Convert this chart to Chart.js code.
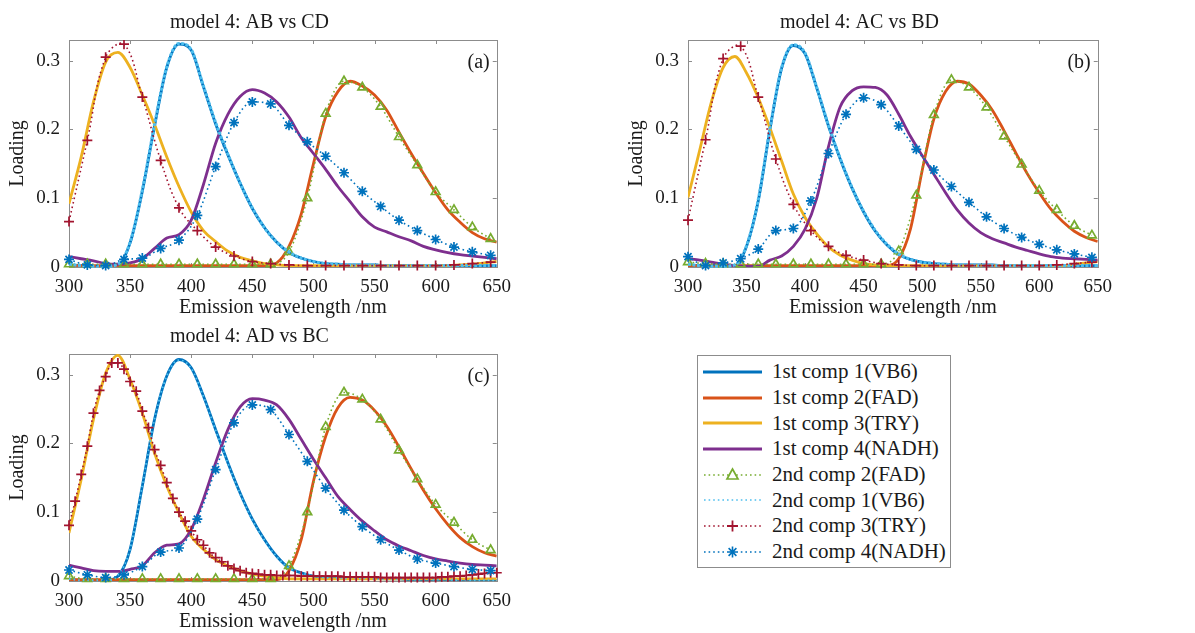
<!DOCTYPE html>
<html>
<head>
<meta charset="utf-8">
<script src="https://cdn.jsdelivr.net/npm/chart.js@4.4.1/dist/chart.umd.min.js"></script>
<style>
  body { margin: 0; background: #fff; width: 1195px; height: 633px; overflow: hidden; position: relative; font-family: "Liberation Serif", serif; }
  canvas { position: absolute; }
  #legend { position: absolute; left: 697px; top: 355px; width: 254px; height: 213px; border: 1px solid #8c8c8c; background: #fff; box-sizing: border-box; padding-top: 3px; }
  .row { height: 25.7px; display: flex; align-items: center; color: #1a1a1a; font-size: 21px; white-space: nowrap; }
  .row svg { margin-left: 5px; margin-right: 10px; }
</style>
</head>
<body>
<canvas id="chartA" width="520" height="320" style="left:0;top:0"></canvas>
<canvas id="chartB" width="502" height="320" style="left:619px;top:0"></canvas>
<canvas id="chartC" width="520" height="320" style="left:0;top:314px"></canvas>
<div id="legend"></div>
<script>
'use strict';

// wavelength grids (nm)
var wl10 = [300,310,320,330,340,350,360,370,380,390,400,410,420,430,440,450,460,470,480,490,500,510,520,530,540,550,560,570,580,590,600,610,620,630,640,650];
var wl15 = [300,315,330,345,360,375,390,405,420,435,450,465,480,495,510,525,540,555,570,585,600,615,630,645];
var wl5 = [300,305,310,315,320,325,330,335,340,345,350,355,360,365,370,375,380,385,390,395,400,405,410,415,420,425,430,435,440,445,450,455,460,465,470,475,480,485,490,495,500,505,510,515,520,525,530,535,540,545,550,555,560,565,570,575,580,585,590,595,600,605,610,615,620,625,630,635,640,645,650];

var xTicks = [300,350,400,450,500,550,600,650];
var yTicks = [0,0.1,0.2,0.3];
var yMax = 0.33;

var titles = ['model 4: AB vs CD', 'model 4: AC vs BD', 'model 4: AD vs BC'];
var tags = ['(a)', '(b)', '(c)'];

var legendLabels = ['1st comp 1(VB6)','1st comp 2(FAD)','1st comp 3(TRY)','1st comp 4(NADH)','2nd comp 2(FAD)','2nd comp 1(VB6)','2nd comp 3(TRY)','2nd comp 4(NADH)'];
var colors = ['#0072BD','#D95319','#EDB120','#7E2F8E','#77AC30','#4DBEEE','#A2142F','#0072BD'];

// ---- panel (a) ----
var aVb6First = [0.003,0.002,0.001,0.001,0.003,0.035,0.11,0.205,0.29,0.324,0.315,0.262,0.208,0.163,0.122,0.085,0.057,0.036,0.021,0.013,0.008,0.005,0.004,0.003,0.003,0.003,0.002,0.002,0.002,0.002,0.002,0.002,0.002,0.002,0.002,0.002];
var aFadFirst = [0.002,0.002,0.002,0.002,0.002,0.002,0.002,0.002,0.002,0.002,0.002,0.002,0.002,0.002,0.002,0.002,0.002,0.006,0.03,0.077,0.15,0.218,0.255,0.27,0.263,0.25,0.228,0.196,0.165,0.136,0.108,0.083,0.065,0.05,0.041,0.036];
var aTryFirst = [0.092,0.16,0.24,0.298,0.312,0.29,0.25,0.207,0.16,0.117,0.08,0.053,0.037,0.023,0.014,0.009,0.005,0.003,0.002,0.002,0.002,0.002,0.002,0.002,0.002,0.002,0.002,0.002,0.002,0.002,0.002,0.002,0.003,0.004,0.006,0.008];
var aNadhFirst = [0.015,0.012,0.009,0.005,0.004,0.006,0.012,0.027,0.042,0.047,0.068,0.12,0.18,0.222,0.248,0.258,0.253,0.24,0.218,0.188,0.165,0.142,0.117,0.095,0.073,0.058,0.051,0.044,0.038,0.03,0.025,0.021,0.018,0.016,0.014,0.012];
var aVb6Second = [0.004,0.002,0.001,0.001,0.004,0.036,0.112,0.207,0.291,0.325,0.316,0.263,0.21,0.164,0.122,0.086,0.057,0.036,0.022,0.013,0.008,0.005,0.004,0.003,0.003,0.003,0.002,0.002,0.002,0.002,0.002,0.002,0.002,0.002,0.002,0.002];
var aFadSecond = [0.004,0.004,0.004,0.004,0.004,0.004,0.004,0.004,0.004,0.004,0.004,0.004,0.022,0.1,0.223,0.27,0.261,0.233,0.189,0.148,0.109,0.083,0.058,0.041];
var aTrySecond = [0.066,0.184,0.305,0.324,0.247,0.155,0.086,0.053,0.029,0.016,0.008,0.005,0.003,0.002,0.002,0.002,0.002,0.002,0.002,0.002,0.002,0.003,0.005,0.007];
var aNadhSecond = [0.011,0.003,0.002,0.011,0.013,0.027,0.039,0.075,0.146,0.21,0.24,0.237,0.206,0.182,0.161,0.137,0.11,0.088,0.068,0.053,0.04,0.029,0.022,0.017];

// ---- panel (b) ----
var bVb6First = [0.003,0.002,0.001,0.001,0.002,0.03,0.096,0.2,0.289,0.322,0.31,0.26,0.205,0.157,0.115,0.08,0.052,0.032,0.018,0.011,0.007,0.005,0.004,0.003,0.003,0.003,0.003,0.002,0.002,0.002,0.002,0.002,0.002,0.002,0.002,0.002];
var bFadFirst = [0.002,0.002,0.002,0.002,0.002,0.002,0.002,0.002,0.002,0.002,0.002,0.002,0.002,0.002,0.002,0.002,0.002,0.002,0.012,0.055,0.14,0.215,0.255,0.27,0.266,0.25,0.228,0.198,0.166,0.135,0.108,0.084,0.066,0.052,0.043,0.037];
var bTryFirst = [0.101,0.17,0.24,0.29,0.306,0.282,0.246,0.202,0.154,0.106,0.072,0.048,0.029,0.017,0.01,0.005,0.003,0.002,0.002,0.002,0.002,0.002,0.002,0.002,0.002,0.002,0.002,0.002,0.002,0.002,0.002,0.002,0.002,0.004,0.006,0.008];
var bNadhFirst = [0.012,0.01,0.007,0.004,0.002,0.001,0.001,0.01,0.016,0.03,0.055,0.1,0.175,0.233,0.256,0.262,0.261,0.25,0.222,0.19,0.162,0.135,0.108,0.083,0.064,0.05,0.041,0.035,0.029,0.024,0.019,0.015,0.013,0.012,0.011,0.01];
var bVb6Second = [0.004,0.002,0.001,0.001,0.003,0.031,0.098,0.201,0.29,0.323,0.311,0.261,0.206,0.158,0.116,0.081,0.053,0.033,0.019,0.011,0.007,0.005,0.004,0.003,0.003,0.002,0.002,0.002,0.002,0.002,0.002,0.002,0.002,0.002,0.002,0.002];
var bFadSecond = [0.007,0.005,0.004,0.004,0.004,0.004,0.004,0.004,0.004,0.004,0.004,0.004,0.023,0.104,0.221,0.272,0.261,0.232,0.19,0.149,0.111,0.083,0.06,0.046];
var bTrySecond = [0.068,0.185,0.303,0.321,0.247,0.157,0.091,0.053,0.03,0.017,0.01,0.005,0.003,0.002,0.002,0.002,0.002,0.002,0.002,0.002,0.002,0.003,0.005,0.007];
var bNadhSecond = [0.015,0.002,0.006,0.012,0.026,0.053,0.056,0.096,0.165,0.222,0.246,0.236,0.205,0.171,0.141,0.117,0.094,0.073,0.056,0.043,0.033,0.025,0.019,0.014];

// ---- panel (c) ----
var cVb6First = [0.002,0.001,0.001,0.001,0.007,0.046,0.138,0.235,0.298,0.322,0.31,0.269,0.22,0.172,0.128,0.09,0.06,0.036,0.019,0.012,0.007,0.005,0.005,0.004,0.004,0.004,0.003,0.003,0.002,0.002,0.002,0.002,0.001,0.001,0.001,0.001];
var cFadFirst = [0.002,0.002,0.002,0.002,0.002,0.002,0.002,0.002,0.002,0.002,0.002,0.002,0.002,0.002,0.002,0.002,0.002,0.002,0.015,0.06,0.145,0.21,0.252,0.267,0.263,0.248,0.225,0.195,0.163,0.132,0.105,0.082,0.063,0.05,0.041,0.036];
var cTryFirst = [0.07,0.148,0.235,0.302,0.328,0.293,0.244,0.186,0.138,0.099,0.065,0.046,0.031,0.022,0.015,0.01,0.007,0.005,0.003,0.003,0.003,0.003,0.003,0.003,0.003,0.003,0.003,0.003,0.003,0.003,0.003,0.003,0.003,0.003,0.003,0.003];
var cNadhFirst = [0.023,0.019,0.015,0.014,0.014,0.017,0.022,0.041,0.052,0.054,0.075,0.119,0.172,0.22,0.253,0.265,0.263,0.256,0.235,0.206,0.177,0.15,0.123,0.104,0.087,0.073,0.06,0.051,0.044,0.037,0.032,0.029,0.026,0.024,0.023,0.022];
var cVb6Second = [0.003,0.001,0.001,0.001,0.008,0.047,0.139,0.236,0.298,0.321,0.309,0.268,0.219,0.171,0.127,0.089,0.059,0.035,0.019,0.012,0.007,0.005,0.004,0.004,0.004,0.003,0.003,0.003,0.002,0.002,0.002,0.002,0.001,0.001,0.001,0.001];
var cFadSecond = [0.007,0.003,0.003,0.003,0.003,0.003,0.003,0.003,0.003,0.003,0.003,0.003,0.022,0.1,0.224,0.274,0.264,0.235,0.19,0.148,0.111,0.085,0.06,0.045];
var cTrySecond = [0.081,0.116,0.155,0.196,0.244,0.277,0.297,0.317,0.317,0.308,0.29,0.276,0.247,0.223,0.191,0.168,0.143,0.12,0.1,0.087,0.073,0.06,0.052,0.041,0.034,0.028,0.022,0.018,0.015,0.012,0.011,
  0.01,0.009,0.009,0.008,0.008,0.008,0.008,0.007,0.007,0.007,0.007,0.007,0.007,0.007,0.006,0.006,0.006,0.006,0.006,0.006,0.005,0.005,0.005,0.005,0.005,0.005,0.005,0.005,0.005,0.005,0.006,0.006,0.007,0.007,0.008,0.009,0.01,0.011,0.012,0.012];
var cNadhSecond = [0.016,0.009,0.005,0.009,0.021,0.042,0.048,0.09,0.162,0.23,0.256,0.249,0.213,0.174,0.135,0.103,0.079,0.06,0.045,0.032,0.026,0.021,0.017,0.015];

function pts(xs, ys) {
  return xs.map(function(x, i) { return { x: x, y: ys[i] }; });
}

function solidSet(idx, xs, ys) {
  return {
    label: legendLabels[idx], data: pts(xs, ys),
    borderColor: colors[idx], borderWidth: 2.8,
    pointRadius: 0, cubicInterpolationMode: 'monotone',
    order: 20 - idx
  };
}

function dottedSet(idx, xs, ys, marker, smooth) {
  var ds = {
    label: legendLabels[idx], data: pts(xs, ys),
    borderColor: colors[idx], borderWidth: 1.6, borderDash: [1.6, 3],
    pointRadius: marker ? 5 : 0, pointStyle: marker || 'circle',
    pointBorderColor: colors[idx], pointBackgroundColor: 'rgba(0,0,0,0)', pointBorderWidth: 1.7,
    clip: { left: 8, top: 0, right: 8, bottom: 8 },
    order: 20 - idx
  };
  if (smooth) { ds.tension = 0.4; } else { ds.cubicInterpolationMode = 'monotone'; }
  return ds;
}

// the light-blue VB6 overlay is heavy in (a),(b) and light in (c)
function vb6Overlay(xs, ys, heavy) {
  var ds = dottedSet(5, xs, ys, null);
  ds.borderWidth = heavy ? 3 : 2;
  ds.borderDash = heavy ? [3, 1.5] : [1.6, 3];
  return ds;
}

var framePlugin = {
  id: 'frame',
  beforeDatasetsDraw: function(chart) {
    var a = chart.chartArea, ctx = chart.ctx;
    var sx = chart.scales.x, sy = chart.scales.y;
    ctx.save();
    ctx.strokeStyle = '#8c8c8c';
    ctx.lineWidth = 1;
    ctx.strokeRect(Math.round(a.left) + 0.5, Math.round(a.top) + 0.5, Math.round(a.right - a.left), Math.round(a.bottom - a.top));
    ctx.beginPath();
    sx.ticks.forEach(function(t) {
      var px = Math.round(sx.getPixelForValue(t.value)) + 0.5;
      ctx.moveTo(px, a.bottom); ctx.lineTo(px, a.bottom - 4);
      ctx.moveTo(px, a.top); ctx.lineTo(px, a.top + 4);
    });
    sy.ticks.forEach(function(t) {
      var py = Math.round(sy.getPixelForValue(t.value)) + 0.5;
      ctx.moveTo(a.left, py); ctx.lineTo(a.left + 4, py);
      ctx.moveTo(a.right, py); ctx.lineTo(a.right - 4, py);
    });
    ctx.stroke();
    ctx.restore();
  },
  afterDraw: function(chart, args, opts) {
    var a = chart.chartArea, ctx = chart.ctx;
    ctx.save();
    ctx.fillStyle = '#1a1a1a';
    ctx.font = '20px "Liberation Serif"';
    ctx.textAlign = 'right';
    ctx.textBaseline = 'middle';
    ctx.fillText(opts.tag, a.right - 7, a.top + 23);
    ctx.restore();
  }
};

function makePanel(id, n, sets) {
  var ctx = document.getElementById(id).getContext('2d');
  return new Chart(ctx, {
    type: 'line',
    data: { datasets: sets },
    plugins: [framePlugin],
    options: {
      responsive: false,
      animation: false,
      layout: { padding: { left: 0, right: 21, top: 0, bottom: 0 } },
      plugins: {
        legend: { display: false },
        tooltip: { enabled: false },
        title: {
          display: true, text: titles[n], color: '#1a1a1a',
          font: { family: 'Liberation Serif', size: 20, weight: 'normal', lineHeight: 1.2 },
          padding: { top: 11, bottom: 5 }
        },
        frame: { tag: tags[n] }
      },
      scales: {
        x: {
          type: 'linear', min: 300, max: 650,
          grid: { display: false, drawTicks: false },
          border: { display: false },
          afterBuildTicks: function(s) { s.ticks = xTicks.map(function(v) { return { value: v }; }); },
          afterFit: function(s) { s.height = 53; },
          ticks: { color: '#1a1a1a', padding: 9, maxRotation: 0, font: { family: 'Liberation Serif', size: 19 } },
          title: { display: true, text: 'Emission wavelength /nm', color: '#1a1a1a', padding: { top: 0, bottom: 0 },
            font: { family: 'Liberation Serif', size: 20, lineHeight: 1.2 } }
        },
        y: {
          min: 0, max: yMax,
          grid: { display: false, drawTicks: false },
          border: { display: false },
          afterBuildTicks: function(s) { s.ticks = yTicks.map(function(v) { return { value: v }; }); },
          afterFit: function(s) { s.width = 69; },
          ticks: { color: '#1a1a1a', padding: 9, font: { family: 'Liberation Serif', size: 19 },
            callback: function(v) { return v === 0 ? '0' : String(v); } },
          title: { display: true, text: 'Loading', color: '#1a1a1a', padding: { top: 6, bottom: 0 },
            font: { family: 'Liberation Serif', size: 20, lineHeight: 1.2 } }
        }
      }
    }
  });
}

makePanel('chartA', 0, [
  solidSet(0, wl10, aVb6First), solidSet(1, wl10, aFadFirst), solidSet(2, wl10, aTryFirst), solidSet(3, wl10, aNadhFirst),
  dottedSet(4, wl15, aFadSecond, 'triangle'), vb6Overlay(wl10, aVb6Second, true),
  dottedSet(6, wl15, aTrySecond, 'cross', true), dottedSet(7, wl15, aNadhSecond, 'star')
]);
makePanel('chartB', 1, [
  solidSet(0, wl10, bVb6First), solidSet(1, wl10, bFadFirst), solidSet(2, wl10, bTryFirst), solidSet(3, wl10, bNadhFirst),
  dottedSet(4, wl15, bFadSecond, 'triangle'), vb6Overlay(wl10, bVb6Second, true),
  dottedSet(6, wl15, bTrySecond, 'cross', true), dottedSet(7, wl15, bNadhSecond, 'star')
]);
makePanel('chartC', 2, [
  solidSet(0, wl10, cVb6First), solidSet(1, wl10, cFadFirst), solidSet(2, wl10, cTryFirst), solidSet(3, wl10, cNadhFirst),
  dottedSet(4, wl15, cFadSecond, 'triangle'), vb6Overlay(wl10, cVb6Second, false),
  dottedSet(6, wl5, cTrySecond, 'cross'), dottedSet(7, wl15, cNadhSecond, 'star')
]);

// legend
var legendMarkers = [null, null, null, null, 'triangle', null, 'cross', 'star'];
var legendEl = document.getElementById('legend');
legendLabels.forEach(function(label, i) {
  var c = colors[i];
  var line = i < 4
    ? '<line x1="0" y1="10" x2="59" y2="10" stroke="' + c + '" stroke-width="3"/>'
    : '<line x1="1" y1="10" x2="59" y2="10" stroke="' + c + '" stroke-width="1.6" stroke-dasharray="1.6 3"/>';
  var m = legendMarkers[i], mk = '';
  if (m === 'triangle') mk = '<polygon points="29.5,4 35,14 24,14" fill="#fff" stroke="' + c + '" stroke-width="1.7"/>';
  if (m === 'cross') mk = '<rect x="23" y="4" width="13" height="12" fill="#fff"/><path d="M29.5 4.5v11M24 10h11" stroke="' + c + '" stroke-width="1.8"/>';
  if (m === 'star') mk = '<rect x="23" y="4" width="13" height="12" fill="#fff"/><path d="M29.5 4.5v11M24 10h11M25.6 6.1l7.8 7.8M33.4 6.1l-7.8 7.8" stroke="' + c + '" stroke-width="1.6"/>';
  var row = document.createElement('div');
  row.className = 'row';
  row.innerHTML = '<svg width="59" height="20">' + line + mk + '</svg><span>' + label + '</span>';
  legendEl.appendChild(row);
});
</script>
</body>
</html>
